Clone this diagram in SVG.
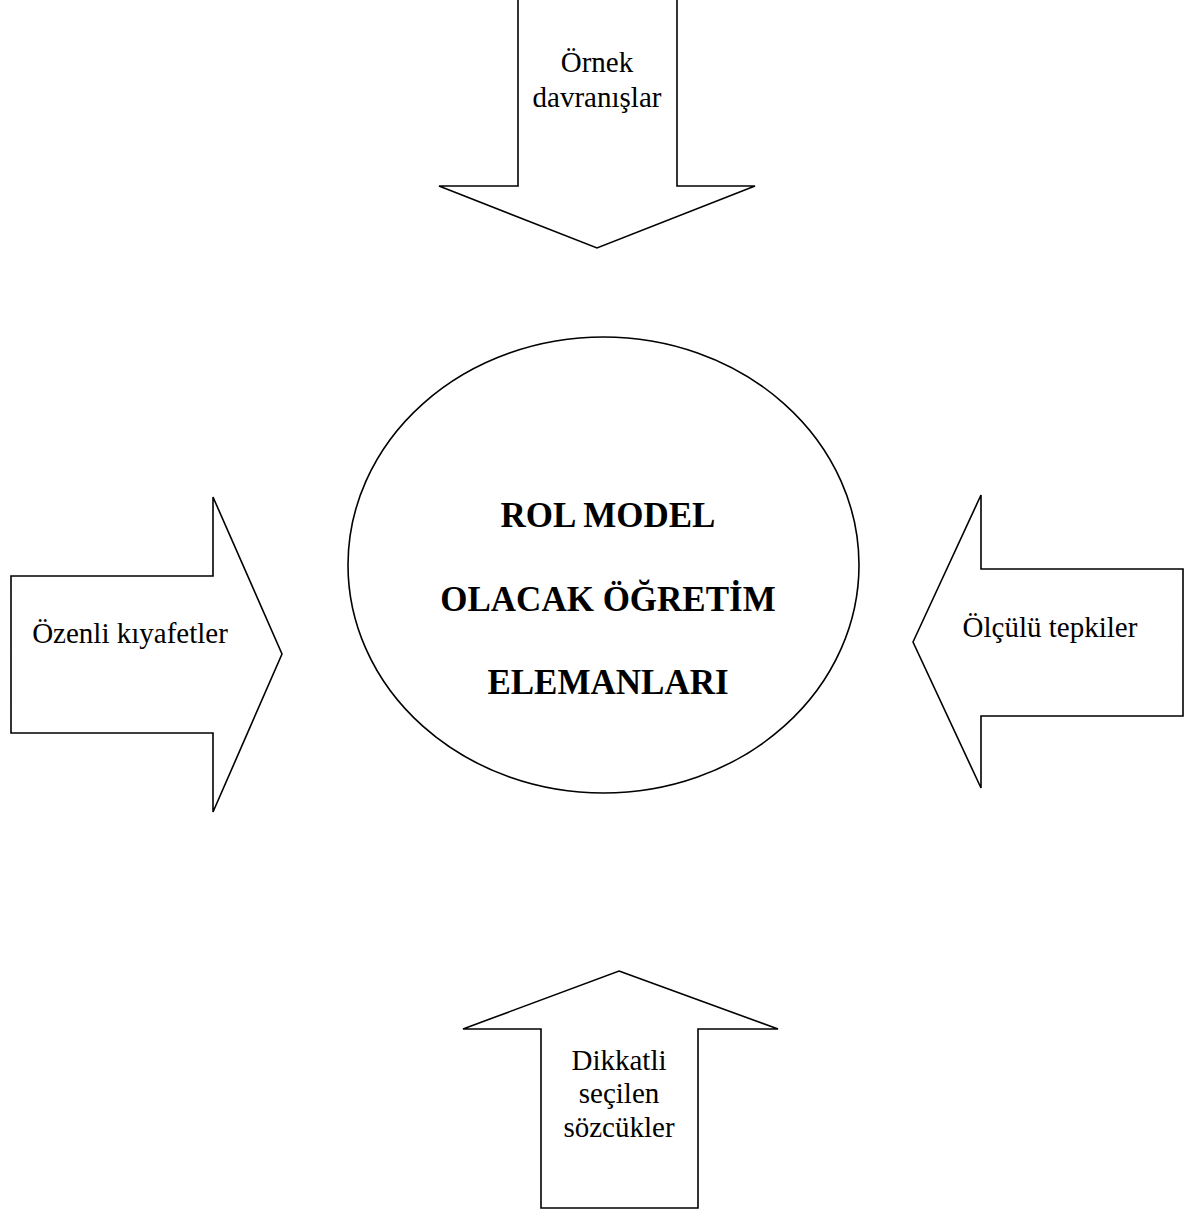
<svg xmlns="http://www.w3.org/2000/svg" width="1203" height="1211" viewBox="0 0 1203 1211">
<style>
.shape{fill:#fff;stroke:#000;stroke-width:1.6;stroke-linejoin:miter}
.t{font-family:"Liberation Serif","Times New Roman",serif;font-size:29px;fill:#000;text-anchor:middle}
.b{font-family:"Liberation Serif","Times New Roman",serif;font-size:35px;font-weight:bold;fill:#000;text-anchor:middle}
</style>
<rect width="1203" height="1211" fill="#fff"/>
<g id="connectors"></g>
<g id="center">
<ellipse class="shape" cx="603.5" cy="565" rx="255.5" ry="228"/>
<text class="b" x="608" y="527">ROL MODEL</text>
<text class="b" x="608" y="611">OLACAK ÖĞRETİM</text>
<text class="b" x="608" y="694">ELEMANLARI</text>
</g>
<g id="arrow-top">
<polygon class="shape" points="518,-3 677,-3 677,186 755,186 597,248 439,186 518,186"/>
<text class="t" x="597" y="72">Örnek</text>
<text class="t" x="597" y="107">davranışlar</text>
</g>
<g id="arrow-left">
<polygon class="shape" points="11,576 213,576 213,497 282,654 213,812 213,733 11,733"/>
<text class="t" x="130" y="643">Özenli kıyafetler</text>
</g>
<g id="arrow-right">
<polygon class="shape" points="913,642 981,495 981,569 1183,569 1183,716 981,716 981,788"/>
<text class="t" x="1050" y="637">Ölçülü tepkiler</text>
</g>
<g id="arrow-bottom">
<polygon class="shape" points="619,971 778,1029 698,1029 698,1208 541,1208 541,1029 463,1029"/>
<text class="t" x="619" y="1070">Dikkatli</text>
<text class="t" x="619" y="1103">seçilen</text>
<text class="t" x="619" y="1137">sözcükler</text>
</g>
</svg>
